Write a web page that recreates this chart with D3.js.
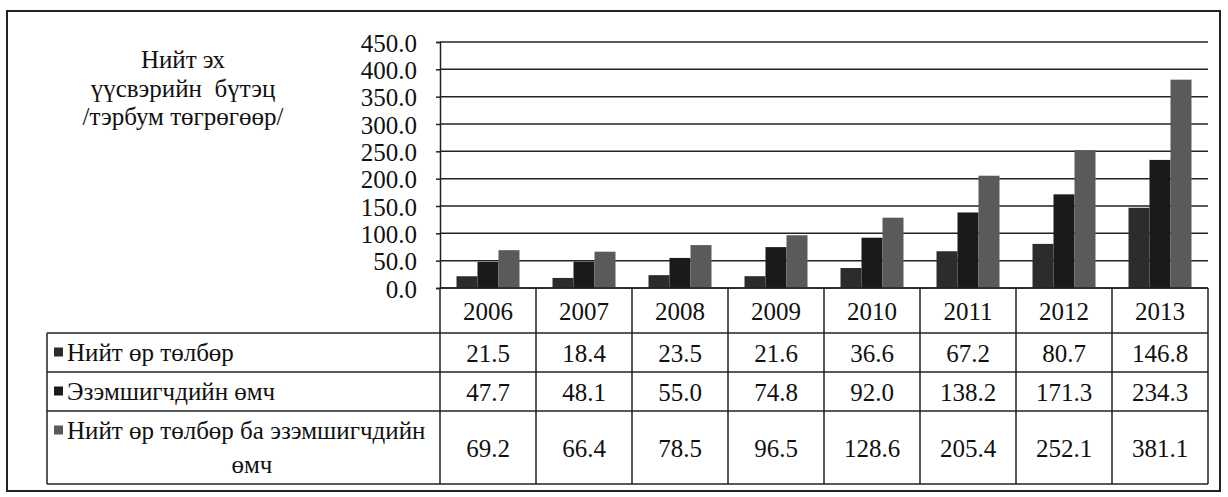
<!DOCTYPE html>
<html>
<head>
<meta charset="utf-8">
<script src="https://cdn.jsdelivr.net/npm/d3@7"></script>
<style>
  body { margin: 0; background: #fff; }
  svg text { font-family: "Liberation Serif", "Times New Roman", "DejaVu Serif", serif; fill: #111; }
</style>
</head>
<body>
<svg width="1228" height="497"></svg>
<script>
// data
var years = ["2006", "2007", "2008", "2009", "2010", "2011", "2012", "2013"],
    seriesNames = ["Нийт өр төлбөр", "Эзэмшигчдийн өмч", "Нийт өр төлбөр ба эзэмшигчдийн"],
    debt = [21.5, 18.4, 23.5, 21.6, 36.6, 67.2, 80.7, 146.8],
    equity = [47.7, 48.1, 55.0, 74.8, 92.0, 138.2, 171.3, 234.3],
    total = [69.2, 66.4, 78.5, 96.5, 128.6, 205.4, 252.1, 381.1],
    yTicks = [0, 50, 100, 150, 200, 250, 300, 350, 400, 450],
    titleLines = ["Нийт эх", "үүсвэрийн  бүтэц", "/тэрбум төгрөгөөр/"];

var series = [debt, equity, total],
    colors = ["#2c2c2c", "#1a1a1a", "#5a5a5a"];

var svg = d3.select("svg"),
    plotLeft = 440, plotRight = 1208, plotTop = 42, plotBottom = 288,
    fs = 25;

// outer frame
svg.append("rect")
    .attr("x", 7).attr("y", 11).attr("width", 1213).attr("height", 480)
    .attr("fill", "none").attr("stroke", "#222").attr("stroke-width", 2);

var x = d3.scaleBand().domain(years).range([plotLeft, plotRight]);
var xs = d3.scaleBand().domain(d3.range(series.length))
    .range([16.5, x.bandwidth() - 16.5]);
var y = d3.scaleLinear().domain([0, 450]).range([plotBottom, plotTop]);

// gridlines
svg.append("g").selectAll("line").data(yTicks).join("line")
    .attr("x1", plotLeft).attr("x2", plotRight)
    .attr("y1", function(d) { return y(d); }).attr("y2", function(d) { return y(d); })
    .attr("stroke", "#222").attr("stroke-width", 1.5);

// y axis
var yAxis = svg.append("g")
    .attr("transform", "translate(" + plotLeft + ",0)")
    .call(d3.axisLeft(y).tickValues(yTicks).tickFormat(d3.format(".1f")).tickSize(4).tickPadding(19));
yAxis.attr("font-family", null).attr("font-size", null);
yAxis.select(".domain").attr("stroke", "#222").attr("stroke-width", 1.5);
yAxis.selectAll(".tick line").attr("stroke", "#222").attr("stroke-width", 1.5);
yAxis.selectAll("text")
    .attr("font-size", fs).attr("fill", "#111").attr("dy", "0.36em");

// bars
series.forEach(function(vals, si) {
  svg.append("g").selectAll("rect").data(vals).join("rect")
      .attr("x", function(d, i) { return x(years[i]) + xs(si); })
      .attr("width", xs.bandwidth())
      .attr("y", function(d) { return y(d); })
      .attr("height", function(d) { return y(0) - y(d); })
      .attr("fill", colors[si]);
});

// title
svg.append("text")
    .attr("x", 183).attr("y", 68)
    .attr("text-anchor", "middle").attr("font-size", fs)
    .attr("xml:space", "preserve")
    .selectAll("tspan").data(titleLines).join("tspan")
    .attr("x", 183).attr("dy", function(d, i) { return i ? 28.5 : 0; })
    .text(function(d) { return d; });

// data table
var tableLeft = 47,
    rowEdges = [plotBottom, 333, 372, 411, 484];

var grid = svg.append("g").attr("stroke", "#222").attr("stroke-width", 1.5);
// horizontal rules
grid.selectAll("line.h").data(rowEdges).join("line").attr("class", "h")
    .attr("x1", function(d, i) { return i === 0 ? plotLeft : tableLeft; })
    .attr("x2", plotRight)
    .attr("y1", function(d) { return d; }).attr("y2", function(d) { return d; });
// vertical rules
var colEdges = years.map(function(d) { return x(d); }).concat([plotRight]);
grid.selectAll("line.v").data(colEdges).join("line").attr("class", "v")
    .attr("x1", function(d) { return d; }).attr("x2", function(d) { return d; })
    .attr("y1", plotBottom).attr("y2", rowEdges[4]);
grid.append("line")
    .attr("x1", tableLeft).attr("x2", tableLeft)
    .attr("y1", rowEdges[1]).attr("y2", rowEdges[4]);

// year labels
svg.append("g").selectAll("text").data(years).join("text")
    .attr("x", function(d) { return x(d) + x.bandwidth() / 2; })
    .attr("y", (rowEdges[0] + rowEdges[1]) / 2 + 9)
    .attr("text-anchor", "middle").attr("font-size", fs)
    .text(function(d) { return d; });

// value rows with legend keys
series.forEach(function(vals, si) {
  var mid = (rowEdges[si + 1] + rowEdges[si + 2]) / 2;
  svg.append("g").selectAll("text").data(vals).join("text")
      .attr("x", function(d, i) { return x(years[i]) + x.bandwidth() / 2; })
      .attr("y", mid + 9)
      .attr("text-anchor", "middle").attr("font-size", fs)
      .text(function(d) { return d3.format(".1f")(d); });

  var ky = si < 2 ? mid : mid - 17;
  svg.append("rect")
      .attr("x", 54).attr("y", ky - 5).attr("width", 9).attr("height", 9)
      .attr("fill", colors[si]);
  if (si < 2) {
    svg.append("text").attr("x", 67).attr("y", mid + 8)
        .attr("font-size", fs).text(seriesNames[si]);
  } else {
    svg.append("text").attr("x", 67).attr("y", mid - 9)
        .attr("font-size", fs).text(seriesNames[si]);
    svg.append("text").attr("x", 252).attr("y", mid + 25)
        .attr("text-anchor", "middle")
        .attr("font-size", fs).text("өмч");
  }
});
</script>
</body>
</html>
